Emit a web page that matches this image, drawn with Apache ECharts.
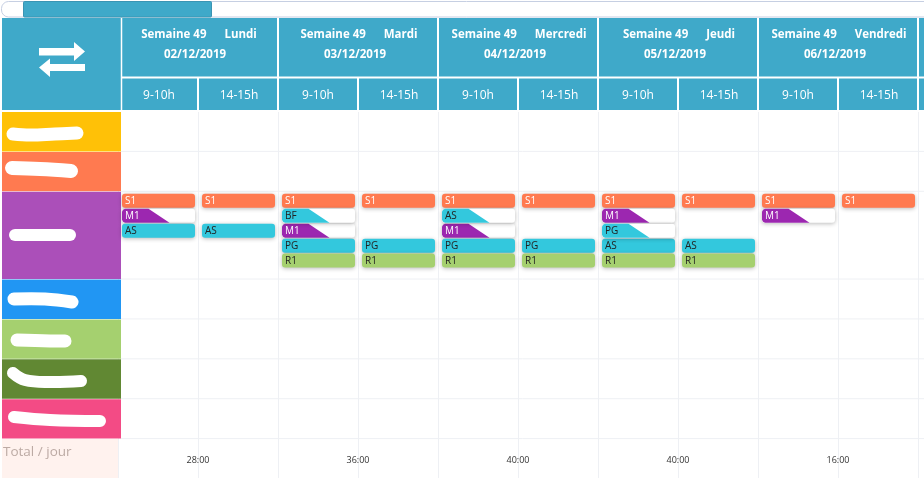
<!DOCTYPE html>
<html>
<head>
<meta charset="utf-8">
<title>Planning</title>
<style>
  html, body { margin: 0; padding: 0; background: #fff; }
  #chart { width: 924px; height: 478px; }
</style>
<script src="https://cdn.jsdelivr.net/npm/echarts@6/dist/echarts.min.js"></script>
</head>
<body>
<div id="chart"></div>
<script>
var weeks = ['Semaine 49', 'Semaine 49', 'Semaine 49', 'Semaine 49', 'Semaine 49'];
var days = ['Lundi', 'Mardi', 'Mercredi', 'Jeudi', 'Vendredi'];
var dates = ['02/12/2019', '03/12/2019', '04/12/2019', '05/12/2019', '06/12/2019'];
var slotLabels = ['9-10h', '14-15h'];
var totals = ['28:00', '36:00', '40:00', '40:00', '16:00'];
var totalLabel = 'Total / jour';

// lane of each code per half day, null when the code is absent
var s1Lanes = [0, 0, 0, 0, 0, 0, 0, 0, 0, 0];
var m1Lanes = [1, null, 2, null, 2, null, 1, null, 1, null];
var bfLanes = [null, null, 1, null, null, null, null, null, null, null];
var asLanes = [2, 2, null, null, 1, null, 3, 3, null, null];
var pgLanes = [null, null, 3, 3, 3, 3, 2, null, null, null];
var r1Lanes = [null, null, 4, 4, 4, 4, 4, 4, null, null];

// share of the bar that is filled, per half day
var m1Fill = [0.5, 1, 0.5, 1, 0.5, 1, 0.5, 1, 0.5, 1];
var bfFill = [1, 1, 0.5, 1, 1, 1, 1, 1, 1, 1];
var asFill = [1, 1, 1, 1, 0.5, 1, 1, 1, 1, 1];
var pgFill = [1, 1, 1, 1, 1, 1, 0.5, 1, 1, 1];
var fullFill = [1, 1, 1, 1, 1, 1, 1, 1, 1, 1];

var HEAD = '#3fa9c9';
var LINE = '#eef0f4';
var FONT = '"Open Sans", "Noto Sans", sans-serif';
var LEFT_END = 121;   // right edge of the name column
var ROW_SPANS = [40, 40, 88, 40, 40, 40, 40, 40];
var ROW_COLORS = ['#ffc107', '#ff7a50', '#ab4fb9', '#2196f3', '#a5d06f', '#618833', '#f34b85'];
var BUSY_ROW = 2;
var LANE_PITCH = 15;

function rowTop(i) {
  var t = 0;
  for (var k = 0; k < i; k++) {
    t += ROW_SPANS[k];
  }
  return t;
}

function eventsOf(code, lanes, fills, color, textColor) {
  var out = [];
  lanes.forEach(function (lane, slot) {
    if (lane !== null) {
      out.push([slot, rowTop(BUSY_ROW) + 3 + lane * LANE_PITCH, fills[slot], code, color, textColor]);
    }
  });
  return out;
}

var eventData = []
  .concat(eventsOf('S1', s1Lanes, fullFill, '#ff7a50', '#fff'))
  .concat(eventsOf('M1', m1Lanes, m1Fill, '#9c27b0', '#fff'))
  .concat(eventsOf('BF', bfLanes, bfFill, '#33c8dd', '#222'))
  .concat(eventsOf('AS', asLanes, asFill, '#33c8dd', '#222'))
  .concat(eventsOf('PG', pgLanes, pgFill, '#33c8dd', '#222'))
  .concat(eventsOf('R1', r1Lanes, fullFill, '#a5d06f', '#222'));

function renderEvent(params, api) {
  var p = api.coord([api.value(0), api.value(1)]);
  var x = p[0] + 4;
  var y = p[1];
  var w = 73;
  var h = 14;
  var fill = api.value(2);
  var code = eventData[params.dataIndex][3];
  var color = eventData[params.dataIndex][4];
  var textColor = eventData[params.dataIndex][5];
  var shadow = { shadowBlur: 4, shadowOffsetY: 1, shadowColor: 'rgba(0,0,0,0.28)' };
  var children = [];

  if (fill < 1) {
    var topW = w * fill - 10;
    var botW = w * fill + 11;
    children.push({
      type: 'rect',
      shape: { x: x, y: y, width: w, height: h, r: 3 },
      style: Object.assign({ fill: '#fff' }, shadow)
    });
    children.push({
      type: 'polygon',
      shape: {
        points: [
          [x + 3, y], [x + topW, y], [x + botW, y + h], [x + 3, y + h],
          [x + 1, y + h - 1], [x, y + h - 3], [x, y + 3], [x + 1, y + 1]
        ]
      },
      style: { fill: color }
    });
  } else {
    children.push({
      type: 'rect',
      shape: { x: x, y: y, width: w, height: h, r: 3 },
      style: Object.assign({ fill: color }, shadow)
    });
  }
  children.push({
    type: 'text',
    style: {
      x: x + 3, y: y + h / 2 + 0.5, text: code, fill: textColor,
      font: '10px ' + FONT, verticalAlign: 'middle', align: 'left'
    }
  });
  return { type: 'group', children: children };
}

function vline(x, y0, y1, color, width) {
  return { type: 'line', shape: { x1: x, y1: y0, x2: x, y2: y1 }, style: { stroke: color, lineWidth: width } };
}

function hline(x0, x1, y, color, width) {
  return { type: 'line', shape: { x1: x0, y1: y, x2: x1, y2: y }, style: { stroke: color, lineWidth: width } };
}

// one item per day: title, date and the separators of the header
function renderDay(params, api) {
  var k = params.dataIndex;
  var left = api.coord([k * 2, 0])[0];
  var mid = api.coord([k * 2 + 1, 0])[0];
  var right = api.coord([k * 2 + 2, 0])[0];
  var cx = (left + right) / 2;
  var children = [
    {
      type: 'text',
      style: {
        x: cx + 1, y: 34.5, text: weeks[k] + '\u00a0\u00a0\u00a0\u00a0\u00a0\u00a0' + days[k], fill: '#fff',
        font: 'bold 11.5px ' + FONT, align: 'center', verticalAlign: 'middle'
      }
    },
    {
      type: 'text',
      style: {
        x: cx - 3, y: 54.5, text: dates[k], fill: '#fff',
        font: 'bold 11.5px ' + FONT, align: 'center', verticalAlign: 'middle'
      }
    },
    vline(mid, 78, 110, '#fff', 2),
    vline(right, 18, 110, '#fff', 2),
    {
      type: 'text',
      style: {
        x: mid - 40 + (k === 0 ? 1 : 0), y: 96, text: slotLabels[0], fill: '#fff',
        font: '12px ' + FONT, align: 'center', verticalAlign: 'middle'
      }
    },
    {
      type: 'text',
      style: {
        x: mid + 41, y: 96, text: slotLabels[1], fill: '#fff',
        font: '12px ' + FONT, align: 'center', verticalAlign: 'middle'
      }
    },
    {
      type: 'text',
      style: {
        x: mid, y: 460, text: totals[k], fill: '#333',
        font: '9px ' + FONT, align: 'center', verticalAlign: 'middle'
      }
    }
  ];
  return { type: 'group', children: children };
}

// name column cell and the horizontal line of a row
function renderRow(params, api) {
  var i = params.dataIndex;
  var y0 = api.coord([0, rowTop(i)])[1];
  var y1 = api.coord([0, rowTop(i + 1)])[1];
  var children = [hline(LEFT_END, 924, y1 + 0.5, LINE, 1)];
  if (i < ROW_COLORS.length) {
    children.push({
      type: 'rect',
      shape: { x: 2, y: y0 + 1, width: LEFT_END - 2, height: y1 - y0 - 0.5 },
      style: { fill: ROW_COLORS[i] }
    });
  } else {
    children.push({
      type: 'rect',
      shape: { x: 2, y: y0 + 1, width: 116, height: y1 - y0 - 1 },
      style: { fill: '#fff2ee' }
    });
    children.push({
      type: 'text',
      style: {
        x: 3, y: y0 + 14.5, text: totalLabel, fill: '#bcaaa4',
        font: '13.5px ' + FONT, verticalAlign: 'middle'
      }
    });
  }
  return { type: 'group', children: children };
}

function scribble(points, width) {
  return {
    type: 'polyline',
    z: 100,
    shape: { points: points, smooth: 0.4 },
    style: { stroke: '#fff', lineWidth: width, lineCap: 'round', lineJoin: 'round', fill: null }
  };
}

var chart = echarts.init(document.getElementById('chart'), null, { renderer: 'canvas' });

chart.setOption({
  animation: false,
  grid: { left: 118, top: 111, width: 806, height: 368 },
  xAxis: {
    type: 'value', min: 0, max: 10.075, interval: 1,
    axisLine: { show: false }, axisTick: { show: false }, axisLabel: { show: false },
    splitLine: { show: true, lineStyle: { color: LINE, width: 1 } }
  },
  yAxis: {
    type: 'value', min: 0, max: 368, inverse: true,
    axisLine: { show: false }, axisTick: { show: false }, axisLabel: { show: false },
    splitLine: { show: false }
  },
  graphic: {
    elements: [
      // scrollbar
      {
        type: 'rect', z: 0,
        shape: { x: 1.5, y: 1.5, width: 930, height: 15.5, r: 7 },
        style: { fill: '#fff', stroke: '#c6cfe2', lineWidth: 1 }
      },
      {
        type: 'rect', z: 1,
        shape: { x: 23.5, y: 1.5, width: 188, height: 15.5, r: 1 },
        style: { fill: HEAD, stroke: '#3a94b3', lineWidth: 1 }
      },
      // header background
      {
        type: 'rect', z: 0,
        shape: { x: 2, y: 18, width: 922, height: 92 },
        style: { fill: HEAD }
      },
      // arrows icon
      {
        type: 'polygon', z: 100,
        shape: { points: [[39, 48], [74, 48], [74, 42], [85, 51.5], [74, 61], [74, 55.5], [39, 55.5]] },
        style: { fill: '#fff' }
      },
      {
        type: 'polygon', z: 100,
        shape: { points: [[85, 64], [50, 64], [50, 58.5], [39, 67.5], [50, 77], [50, 71], [85, 71]] },
        style: { fill: '#fff' }
      },
      // names are masked by hand in the source picture
      scribble([[13, 134], [30, 135], [55, 134], [77, 133]], 13),
      scribble([[12, 168], [40, 169], [71, 171]], 14),
      scribble([[15, 235], [70, 235]], 12),
      scribble([[14, 299], [45, 299], [72, 302]], 13),
      scribble([[17, 340], [50, 341], [65, 341]], 13),
      scribble([[13, 373], [25, 380], [50, 382], [81, 381]], 12),
      scribble([[14, 417], [50, 420], [100, 421]], 12)
    ]
  },
  series: [
    {
      type: 'custom', silent: true, clip: false, z: 2,
      data: ROW_SPANS.map(function (v, i) { return [0, rowTop(i)]; }),
      renderItem: renderRow
    },
    {
      type: 'custom', silent: true, clip: false, z: 3,
      data: days.map(function (d, i) { return [i * 2, 0]; }),
      renderItem: renderDay
    },
    {
      type: 'custom', silent: true, clip: false, z: 4,
      data: [[0, 0]],
      renderItem: function () {
        // left edge of the first day and the line under the day titles
        return {
          type: 'group',
          children: [
            vline(LEFT_END + 0.5, 18, 110, '#fff', 1.5),
            hline(LEFT_END, 924, 77.5, '#fff', 2),
            hline(2, 924, 111, '#fff', 2)
          ]
        };
      }
    },
    {
      type: 'custom', silent: true, clip: false, z: 5,
      data: eventData.map(function (e) { return [e[0], e[1], e[2]]; }),
      renderItem: renderEvent
    }
  ]
});
</script>
</body>
</html>
